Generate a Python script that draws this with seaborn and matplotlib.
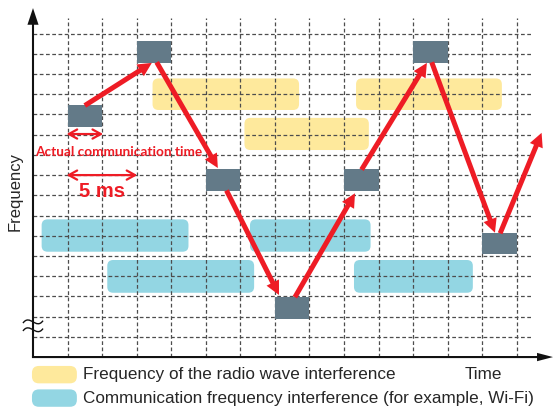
import matplotlib
matplotlib.use("Agg")
import matplotlib.pyplot as plt
import seaborn as sns
from matplotlib import font_manager as fm
from matplotlib.textpath import TextPath
from matplotlib.path import Path
from matplotlib.patches import FancyBboxPatch, Rectangle, FancyArrowPatch, PathPatch

# hop slots: left edge (time slot) and bottom (frequency), each 1 slot wide
slot_x = [1, 3, 5, 7, 9, 11, 13]
slot_y = [11.39, 14.55, 8.22, 1.90, 8.22, 14.55, 5.08]

# red hop arrows, start -> end
hop_x0 = [1.50, 3.58, 5.60, 7.58, 9.51, 11.54, 13.52]
hop_y0 = [12.44, 14.58, 8.24, 2.96, 9.27, 14.58, 6.12]
hop_x1 = [3.44, 5.35, 7.12, 9.32, 11.40, 13.37, 14.72]
hop_y1 = [14.55, 9.35, 3.07, 8.10, 14.55, 6.15, 11.09]

# radio wave interference bands (yellow)
radio_x0 = [3.46, 6.12, 9.35]
radio_x1 = [7.70, 9.72, 13.57]
radio_y0 = [12.22, 10.24, 12.22]
radio_y1 = [13.78, 11.83, 13.78]

# communication frequency interference bands (blue)
wifi_x0 = [0.25, 2.15, 6.28, 9.29]
wifi_x1 = [4.50, 6.40, 9.77, 12.73]
wifi_y0 = [5.21, 3.18, 5.21, 3.18]
wifi_y1 = [6.81, 4.80, 6.81, 4.80]

legend_labels = ["Frequency of the radio wave interference",
                 "Communication frequency interference (for example, Wi-Fi)"]

NOTE = "Actual communication time"

YELLOW = "#fee99c"
BLUE = "#93d6e3"
GREY = "#637a88"
RED = "#ee1c25"

FAMILIES = ["Liberation Sans Narrow", "Noto Sans", "DejaVu Sans", "Open Sans",
            "Roboto", "Lato", "Inter", "Liberation Sans"]


def narrow_bold_font(text, target_px, max_size=12.5):
    """Pick the narrowest condensed bold face of a known family, sized to target_px."""
    def is_bold(f):
        w = f.weight
        if isinstance(w, str):
            return w == "bold"
        return 650 <= w <= 750
    best = None
    for f in fm.fontManager.ttflist:
        base = f.fname.rsplit("/", 1)[-1].lower()
        if f.name not in FAMILIES or not is_bold(f) or f.style != "normal":
            continue
        if "italic" in base or "oblique" in base:
            continue
        prop = fm.FontProperties(fname=f.fname, size=10)
        try:
            w_px = TextPath((0, 0), text, prop=prop).get_extents().width * 100 / 72
        except Exception:
            continue
        if w_px <= 50:
            continue
        if best is None or w_px < best[0]:
            best = (w_px, f.fname)
    if best is None:
        return fm.FontProperties(family="DejaVu Sans", weight="bold", size=8.5)
    w_px, fname = best
    return fm.FontProperties(fname=fname, size=min(10 * target_px / w_px, max_size))


sns.set_theme(style="white")
plt.rcParams["font.family"] = ["Liberation Sans", "DejaVu Sans"]

fig = plt.figure(figsize=(5.53, 4.08), dpi=100)
ax = fig.add_axes([0, 0, 1, 1])
ax.set_xlim(-0.955, 15.05)
ax.set_ylim(-2.52, 17.66)
ax.axis("off")

# px per data unit, used to keep rounded corners round
aspect = 34.55 / 20.22


def band(x0, x1, y0, y1, color, r=0.17):
    ax.add_patch(FancyBboxPatch((x0, y0), x1 - x0, y1 - y0,
                                boxstyle=f"round,pad=0,rounding_size={r}",
                                mutation_aspect=aspect, fc=color, ec="none", zorder=1))


for i in range(len(radio_x0)):
    band(radio_x0[i], radio_x1[i], radio_y0[i], radio_y1[i], YELLOW)
for i in range(len(wifi_x0)):
    band(wifi_x0[i], wifi_x1[i], wifi_y0[i], wifi_y1[i], BLUE)

# dashed grid
ax.vlines(range(1, 15), 0, 16.76, colors="#4d4d4d", lw=0.9, linestyles=(0, (3, 2)), zorder=2)
ax.hlines(range(1, 17), 0, 14.43, colors="#4d4d4d", lw=0.9, linestyles=(0, (3, 2)), zorder=2)

# hop slots
for x, y in zip(slot_x, slot_y):
    ax.add_patch(Rectangle((x, y), 1, 1.07, fc=GREY, ec="none", zorder=3))

# hop arrows
for i in range(len(hop_x0)):
    ax.add_patch(FancyArrowPatch((hop_x0[i], hop_y0[i]), (hop_x1[i], hop_y1[i]),
                                 arrowstyle="simple,head_length=1.0,head_width=1.0,tail_width=0.36",
                                 mutation_scale=10, fc=RED, ec="none",
                                 shrinkA=0, shrinkB=0, zorder=4))

# axes with arrow heads
ax.add_patch(FancyArrowPatch((0, -0.02), (0, 17.26),
                             arrowstyle="simple,head_length=1.2,head_width=0.8,tail_width=0.15",
                             mutation_scale=10, fc="#111111", ec="none", shrinkA=0, shrinkB=0, zorder=5))
ax.add_patch(FancyArrowPatch((-0.03, 0), (15.05, 0),
                             arrowstyle="simple,head_length=1.15,head_width=0.6,tail_width=0.15",
                             mutation_scale=10, fc="#111111", ec="none", shrinkA=0, shrinkB=0, zorder=5))

# axis break mark: two small waves across the axis line
for yb in [1.74, 1.35]:
    x0, x1 = -0.29, 0.29
    wave = Path([(x0, yb - 0.06), (x0 + 0.2, yb + 0.42), (x1 - 0.2, yb - 0.42), (x1, yb + 0.06)],
                [Path.MOVETO, Path.CURVE4, Path.CURVE4, Path.CURVE4])
    ax.add_patch(PathPatch(wave, fc="none", ec="#111111", lw=1.0, zorder=6))

# duration markers
for x1, yb in [(2.03, 11.03), (3.02, 9.0)]:
    ax.add_patch(FancyArrowPatch((0.97, yb), (x1, yb),
                                 arrowstyle="<->,head_length=4,head_width=2.2",
                                 mutation_scale=1.5, color=RED, lw=1.6,
                                 shrinkA=0, shrinkB=0, zorder=5))
narrow = narrow_bold_font(NOTE, 166)
ax.text(2.47, 10.16, NOTE, color=RED, fontproperties=narrow,
        ha="center", va="center", zorder=6)
ax.text(1.99, 8.2, "5 ms", color=RED, fontsize=14.5, fontweight="bold",
        ha="center", va="center", zorder=6)

ax.text(-0.52, 8.2, "Frequency", rotation=90, fontsize=12, ha="center", va="center")
ax.text(13.04, -0.88, "Time", fontsize=12.3, ha="center", va="center")

# legend
for i, (color, label) in enumerate(zip([YELLOW, BLUE], legend_labels)):
    y0 = [-1.30, -2.46][i]
    ax.add_patch(FancyBboxPatch((-0.03, y0), 1.30, 0.86,
                                boxstyle="round,pad=0,rounding_size=0.2",
                                mutation_aspect=aspect, fc=color, ec="none"))
    ax.text(1.45, y0 + 0.43, label, fontsize=12.3, ha="left", va="center")

fig.savefig("out.png", dpi=100)
